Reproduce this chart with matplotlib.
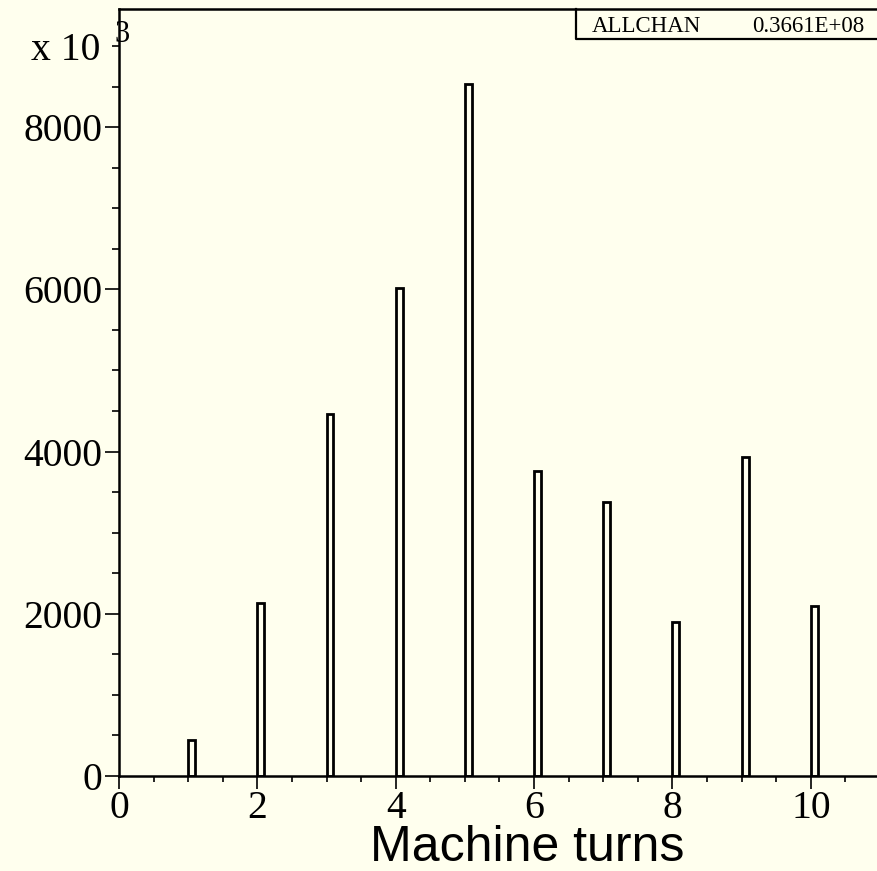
import matplotlib
matplotlib.use("Agg")

import matplotlib.pyplot as plt
from matplotlib.ticker import MultipleLocator

# Counts per machine turn (units of 10^3), one narrow bin per turn
turns = [1, 2, 3, 4, 5, 6, 7, 8, 9, 10]
counts = [444, 2136, 4469, 6012, 8531, 3760, 3380, 1901, 3938, 2099]
bin_width = 0.1

hist_name = "ALLCHAN"
hist_total = "0.3661E+08"
x_label = "Machine turns"

BG = "#FFFFEE"
W, H = 878, 871

fig = plt.figure(figsize=(W / 100, H / 100), dpi=100, facecolor=BG)
ax = fig.add_axes([119 / W, 1 - 775.7 / H, (880 - 119) / W, (775.7 - 9) / H])
ax.set_facecolor(BG)

ax.bar(turns, counts, width=bin_width, align="edge", fill=False,
       edgecolor="black", linewidth=2.0)

ax.set_xlim(0, 11)
ax.set_ylim(0, 9460)
ax.xaxis.set_major_locator(MultipleLocator(2))
ax.xaxis.set_minor_locator(MultipleLocator(0.5))
ax.yaxis.set_major_locator(MultipleLocator(2000))
ax.yaxis.set_minor_locator(MultipleLocator(500))

for side in ("left", "bottom", "top", "right"):
    ax.spines[side].set_linewidth(1.8)

serif = ["Liberation Serif", "DejaVu Serif"]
ax.tick_params(axis="both", which="both", direction="out", width=1.2,
               labelsize=28.5, top=False, right=False)
ax.tick_params(axis="x", which="major", length=9, pad=1)
ax.tick_params(axis="x", which="minor", length=4.5)
ax.tick_params(axis="y", which="major", length=10, pad=2)
ax.tick_params(axis="y", which="minor", length=5)
for lbl in ax.get_xticklabels() + ax.get_yticklabels():
    lbl.set_fontfamily(serif)

ax.set_xlabel(x_label, fontsize=36, family=["Liberation Sans", "DejaVu Sans"])
ax.xaxis.set_label_coords(0.537, -0.064, transform=ax.transAxes)
ax.xaxis.label.set_va("top")

# exponent label on the y axis
fig.text(100 / W, 1 - 60 / H, "x 10", ha="right", va="baseline",
         fontsize=28.5, family=serif)
fig.text(114 / W, 1 - 42 / H, "3", ha="left", va="baseline",
         fontsize=22, family=serif)

# statistics box in the top-right corner
ax.plot([576 / W, 576 / W, 1.0], [1 - 9 / H, 1 - 39 / H, 1 - 39 / H],
        transform=fig.transFigure, color="black", linewidth=1.6,
        clip_on=False)
fig.text(592 / W, 1 - 32 / H, hist_name, ha="left", va="baseline",
         fontsize=16.5, family=serif)
fig.text(864 / W, 1 - 32 / H, hist_total, ha="right", va="baseline",
         fontsize=16.5, family=serif)

fig.savefig("out.png", dpi=100, facecolor=BG)
plt.close(fig)
